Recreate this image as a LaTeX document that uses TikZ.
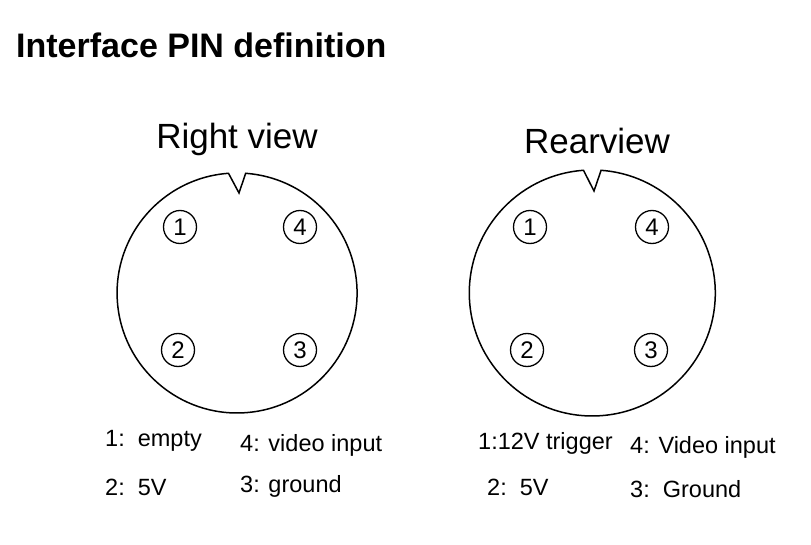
\documentclass[tikz,border=0pt]{standalone}
\usepackage{fontspec}
\setmainfont{Liberation Sans}
\begin{document}
\begin{tikzpicture}[x=1pt,y=-1pt,
  pin/.style={circle,draw,line width=1.3pt,minimum size=33pt,inner sep=0pt,font=\fontsize{24}{24}\selectfont},
  lab/.style={anchor=west,font=\fontsize{23.5}{24}\selectfont,inner sep=0pt},
  view/.style={font=\fontsize{35}{35}\selectfont,inner sep=0pt},
  body/.style={line width=1.5pt}]
\useasboundingbox (0,0) rectangle (811,545);
\node[anchor=west,inner sep=0pt,font=\fontsize{34}{34}\selectfont\bfseries] (title) at (16,45) {Interface PIN definition};
% left connector
\node[view] (rv) at (237,139) {Right view};
\draw[body] (228.5,173.3) arc[start angle=265.9,end angle=-85.9,radius=120] -- (239,193) -- cycle;
\node[pin] (l1) at (180,227) {1};
\node[pin] (l4) at (300,227) {4};
\node[pin] (l2) at (178,350) {2};
\node[pin] (l3) at (300,350) {3};
\node[lab] (lt1) at (105,441) {1:\ \ empty};
\node[lab] (lt4) at (240,445) {4: video input};
\node[lab] (lt2) at (105,487) {2:\ \ 5V};
\node[lab] (lt3) at (240,486) {3: ground};
% right connector
\node[view] (rr) at (597,141) {Rearview};
\draw[body] (583.5,170.3) arc[start angle=265.9,end angle=-85.9,radius=123] -- (594,191) -- cycle;
\node[pin] (r1) at (530,227) {1};
\node[pin] (r4) at (652,227) {4};
\node[pin] (r2) at (527,350) {2};
\node[pin] (r3) at (651,350) {3};
\node[lab] (rt1) at (478,443) {1:12V trigger};
\node[lab] (rt4) at (630,447) {4: Video input};
\node[lab] (rt2) at (487,487) {2:\ \ 5V};
\node[lab] (rt3) at (630,489) {3:\ \ Ground};
\end{tikzpicture}
\end{document}
